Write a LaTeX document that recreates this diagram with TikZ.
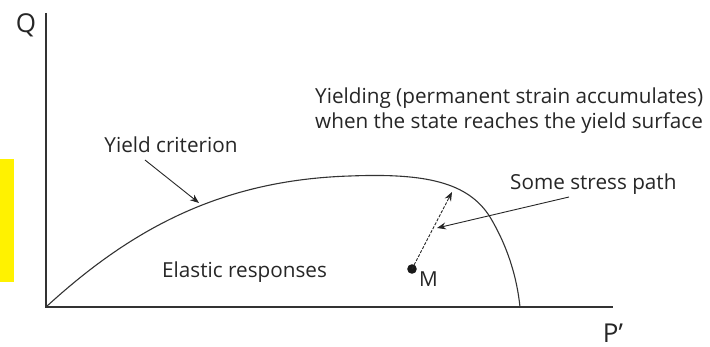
\documentclass[tikz,border=0pt]{standalone}
\usepackage{fontspec}
\setmainfont{Open Sans}
\usetikzlibrary{arrows.meta}
\begin{document}
\begin{tikzpicture}[x=1pt,y=-1pt,
  lbl/.style={inner sep=0pt, font=\fontsize{20.7}{24}\selectfont, text=black!85},
  axlbl/.style={inner sep=0pt, font=\fontsize{26}{28}\selectfont, text=black!85},
  axisline/.style={line width=1.1pt, black!80},
  curveline/.style={line width=1.1pt, black!80},
  pointer/.style={line width=0.9pt, black!85, -{Stealth[length=9pt,width=7pt]}},
  stresspath/.style={line width=0.9pt, black!85, dash pattern=on 3pt off 1.5pt, -{Stealth[length=9pt,width=7pt]}}]
\useasboundingbox (0,0) rectangle (710,347);
\fill[yellow] (0,159) rectangle (14,282);
% axes
\coordinate (O) at (46,307);
\coordinate (Qtop) at (46,13);
\coordinate (Pend) at (613,307);
\draw[axisline] (Qtop) -- (O) -- (Pend);
\node[axlbl] (Q) at (26,25) {Q};
\node[axlbl] (P) at (613,333) {P’};
% yield surface
\draw[curveline] (O) .. controls (130,230) and (220,180) .. (350,176)
  .. controls (425,173) and (468,182) .. (490,217)
  .. controls (508,247) and (517,278) .. (520,307);
% labels
\node[lbl] (yc) at (171,145) {Yield criterion};
\node[lbl, anchor=west] (y1) at (315,98) {Yielding (permanent strain accumulates)};
\node[lbl, anchor=west] (y2) at (315,123) {when the state reaches the yield surface};
\node[lbl, anchor=west] (sp) at (510,184) {Some stress path};
\node[lbl, anchor=west] (el) at (162,272) {Elastic responses};
\node[lbl, anchor=west] (Mlbl) at (419,279) {M};
% point M
\fill[black!90] (412,269) circle (4.8pt);
\coordinate (Mpt) at (412,269);
\coordinate (Mtip) at (452,192);
\draw[stresspath] (Mpt) -- (Mtip);
% pointers
\coordinate (ycs) at (145,160);
\coordinate (yce) at (199,203);
\draw[pointer] (ycs) -- (yce);
\coordinate (sps) at (569,197);
\coordinate (spe) at (437,228);
\draw[pointer] (sps) -- (spe);
\end{tikzpicture}
\end{document}
